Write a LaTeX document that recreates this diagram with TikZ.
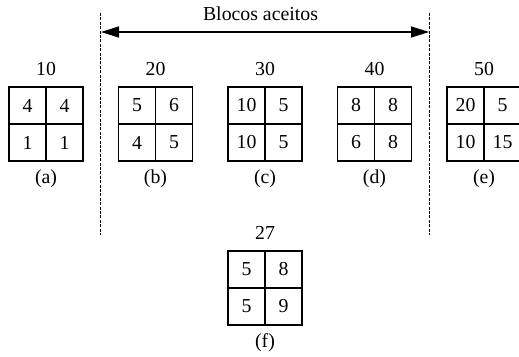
\documentclass[tikz,border=0pt]{standalone}
\usepackage{fontspec}
\setmainfont{Liberation Serif}
\usetikzlibrary{arrows.meta}
\tikzset{
  cell/.style={draw, line width=1.4pt, minimum size=37pt, inner sep=0pt, anchor=center},
  lbl/.style={inner sep=0pt, anchor=center},
  sep/.style={line width=0.9pt, dash pattern=on 3pt off 1.4pt},
  span/.style={line width=1.3pt, {Triangle[length=18pt,width=11pt]}-{Triangle[length=18pt,width=11pt]}}
}
\newcommand\gridblock[9]{%
  \node[cell] (#1-1) at ({#2-18.5},{#3-18.5}) {#5};
  \node[cell] (#1-2) at ({#2+18.5},{#3-18.5}) {#6};
  \node[cell] (#1-3) at ({#2-18.5},{#3+18.5}) {#7};
  \node[cell] (#1-4) at ({#2+18.5},{#3+18.5}) {#8};
  \node[lbl] (#1-top) at (#2,{#3-55}) {#4};
  \node[lbl] (#1-bot) at (#2,{#3+55}) {#9};
}
\begin{document}
\begin{tikzpicture}[x=1pt,y=-1pt,font=\fontsize{19.8}{23}\selectfont]
\useasboundingbox (0,0) rectangle (519,356);
\gridblock{a}{46}{124}{10}{4}{4}{1}{1}{(a)}
\gridblock{b}{155.5}{124}{20}{5}{6}{4}{5}{(b)}
\gridblock{c}{265}{124}{30}{10}{5}{10}{5}{(c)}
\gridblock{d}{374.5}{124}{40}{8}{8}{6}{8}{(d)}
\gridblock{e}{484}{124}{50}{20}{5}{10}{15}{(e)}
\gridblock{f}{265}{288}{27}{5}{8}{5}{9}{(f)}
\coordinate (l1) at (100.5,13);
\coordinate (l2) at (100.5,235);
\coordinate (r1) at (429.5,13);
\coordinate (r2) at (429.5,235);
\draw[sep] (l1) -- (l2);
\draw[sep] (r1) -- (r2);
\coordinate (al) at (101,32);
\coordinate (ar) at (429,32);
\draw[span] (al) -- (ar);
\node[lbl] (title) at (260.5,14) {Blocos aceitos};
\end{tikzpicture}
\end{document}
